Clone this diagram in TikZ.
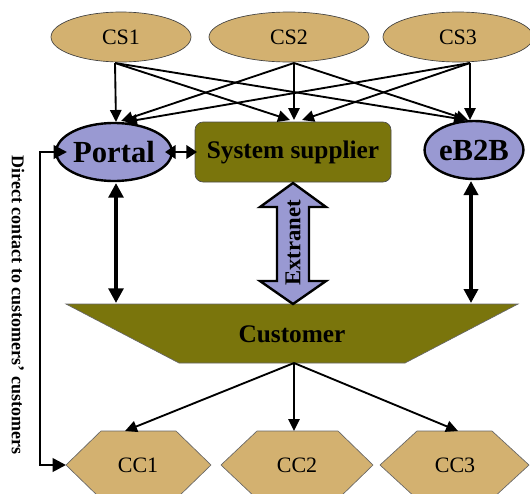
\documentclass[tikz,border=0pt]{standalone}
\usepackage{fontspec}
\setmainfont{Liberation Serif}
\usetikzlibrary{arrows.meta,shapes.geometric}
\definecolor{olivebox}{RGB}{122,117,12}
\definecolor{lavender}{RGB}{153,153,210}
\definecolor{tanfill}{RGB}{211,177,112}

\begin{document}
\begin{tikzpicture}[x=0.75pt,y=-0.75pt,
  source/.style={ellipse,draw=black!75,line width=0.5pt,fill=tanfill,inner sep=0pt,
    minimum height=37.5pt,font=\fontsize{16.5}{18}\selectfont},
  channel/.style={ellipse,draw=black,line width=1.8pt,fill=lavender,inner sep=0pt,
    minimum height=43.5pt,font=\bfseries\fontsize{23}{26}\selectfont},
  label/.style={inner sep=0pt},
  thin tip/.style={-{Triangle[length=9pt,width=8.5pt]},line width=1.4pt},
  hexa/.style={draw=black!60,line width=0.5pt,fill=tanfill}
]
\useasboundingbox (0,0) rectangle (530,493);

% --- suppliers on the top row
\node[source,minimum width=105pt]   (cs1) at (121,37) {CS1};
\node[source,minimum width=120pt]   (cs2) at (289,37) {CS2};
\node[source,minimum width=112.5pt] (cs3) at (458,37) {CS3};

% --- channels
\node[channel,minimum width=67.5pt] (portal) at (114,152) {Portal};
\node[channel,minimum width=70.5pt] (eb2b) at (474,150) {eB2B};
\node[rectangle,rounded corners=6pt,draw=black!70,line width=0.5pt,fill=olivebox,
      minimum width=147pt,minimum height=45pt,inner sep=0pt,
      font=\bfseries\fontsize{19}{22}\selectfont] (ss) at (293,152) {System supplier};

% --- customer trapezoid
\fill[olivebox,draw=black!60,line width=0.5pt]
  (66,304) -- (518,304) -- (405,363) -- (179,363) -- cycle;
\node[label,font=\bfseries\fontsize{19}{22}\selectfont] (cust) at (292,334) {Customer};

% --- customers' customers
\path[hexa] (66,465) -- (101,431) -- (176,431) -- (211,465) -- (176,499) -- (101,499) -- cycle;
\path[hexa] (221,465) -- (257,431) -- (338,431) -- (373,465) -- (338,499) -- (257,499) -- cycle;
\path[hexa] (380,465) -- (417,431) -- (492,431) -- (529,465) -- (492,499) -- (417,499) -- cycle;
\node[label,font=\fontsize{16.5}{18}\selectfont] (cc1) at (138,465) {CC1};
\node[label,font=\fontsize{16.5}{18}\selectfont] (cc2) at (297,465) {CC2};
\node[label,font=\fontsize{16.5}{18}\selectfont] (cc3) at (455,465) {CC3};

% --- connection points
\coordinate (cs1o) at (115,63);
\coordinate (cs2o) at (294,63);
\coordinate (cs3o) at (470,63);
\coordinate (pin1) at (116,122);
\coordinate (pin2) at (121,121);
\coordinate (pin3) at (125,122);
\coordinate (sin1) at (290,120);
\coordinate (sin2) at (294,120);
\coordinate (sin3) at (302,120);
\coordinate (ein1) at (466,120);
\coordinate (ein2) at (468,120);
\coordinate (ein3) at (470,120);
\coordinate (pse) at (165,152);
\coordinate (ssw) at (197,152);
\coordinate (ptop) at (116,183);
\coordinate (custtop1) at (116,303);
\coordinate (etop) at (471,181);
\coordinate (custtop3) at (471,303);
\coordinate (custbot) at (294,363);
\coordinate (cc1in) at (125,431);
\coordinate (cc2in) at (294,431);
\coordinate (cc3in) at (458,431);
\coordinate (cc1w) at (66,465);
\coordinate (portalw) at (67,152);
\coordinate (bend) at (40,152);

% --- supplier flows
\draw[thin tip] (cs1o) -- (pin1);
\draw[thin tip] (cs1o) -- (sin1);
\draw[thin tip] (cs1o) -- (ein1);
\draw[thin tip] (cs2o) -- (pin2);
\draw[thin tip] (cs2o) -- (sin2);
\draw[thin tip] (cs2o) -- (ein2);
\draw[thin tip] (cs3o) -- (pin3);
\draw[thin tip] (cs3o) -- (sin3);
\draw[thin tip] (cs3o) -- (ein3);

% --- portal <-> system supplier
\draw[{Triangle[length=8pt,width=10pt]}-{Triangle[length=8pt,width=10pt]},line width=2.2pt]
  (pse) -- (ssw);

% --- channels <-> customer
\draw[{Triangle[length=11pt,width=11pt]}-{Triangle[length=11pt,width=11pt]},line width=3.4pt]
  (ptop) -- (custtop1);
\draw[{Triangle[length=10.5pt,width=10.5pt]}-{Triangle[length=10.5pt,width=10.5pt]},line width=2.6pt]
  (etop) -- (custtop3);

% --- extranet double arrow
\filldraw[fill=lavender,draw=black,line width=1.8pt,line join=miter]
  (293,183) -- (326,207) -- (309,207) -- (309,281) -- (326,281) -- (293,304)
  -- (260,281) -- (277,281) -- (277,207) -- (260,207) -- cycle;
\node[label,rotate=90,font=\bfseries\fontsize{17}{20}\selectfont] (ext) at (293,243) {Extranet};

% --- customer -> customers' customers
\draw[thin tip] (custbot) -- (cc1in);
\draw[thin tip] (custbot) -- (cc2in);
\draw[thin tip] (custbot) -- (cc3in);

% --- direct contact loop
\draw[{Triangle[length=10pt,width=10pt]}-{Triangle[length=10pt,width=10pt]},line width=2pt]
  (portalw) -- (bend) |- (cc1w);
\node[label,rotate=-90,font=\bfseries\fontsize{13.5}{16}\selectfont] (direct) at (18,305)
  {Direct contact to customers’ customers};
\end{tikzpicture}
\end{document}
